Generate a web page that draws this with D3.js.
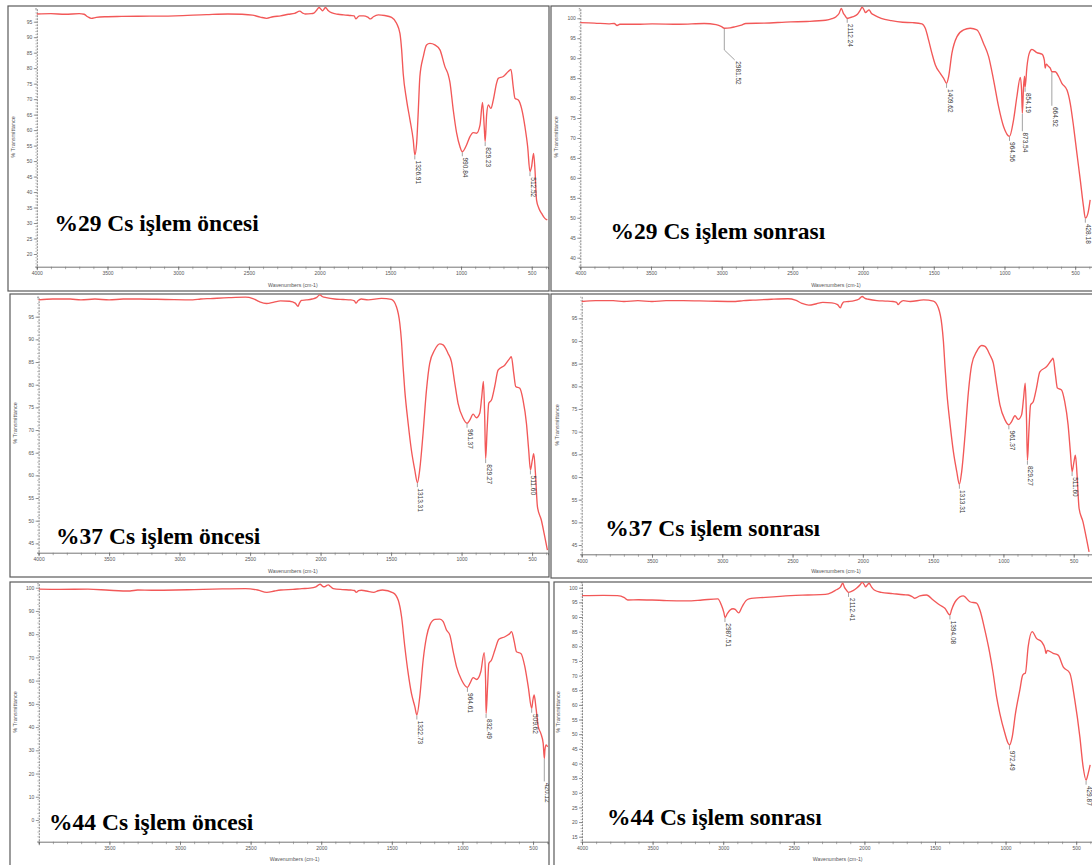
<!DOCTYPE html>
<html>
<head>
<meta charset="utf-8">
<script src="https://cdn.jsdelivr.net/npm/d3@7"></script>
<style>
  body { margin: 0; background: #fff; }
  svg { display: block; }
</style>
</head>
<body>
<svg id="fig" width="1092" height="865"></svg>
<script>
// FTIR spectra: [wavenumber (cm-1), % transmittance]

const cs29Before = [
  [4000,97.5],[3900,97.6],[3800,97.4],[3700,97.6],[3665,97.4],[3640,96.6],[3615,96.1],[3580,96.4],
  [3516,96.6],[3400,96.7],[3200,96.8],[3020,96.9],[2800,97.3],[2648,97.5],[2550,97.4],[2475,97.1],
  [2420,96.5],[2375,96.1],[2330,96.6],[2276,96.9],[2220,97.4],[2177,97.7],[2140,98.4],[2120,97.8],
  [2103,97.5],[2060,97.6],[2041,97.8],[2020,98.8],[2004,99.6],[1990,99.0],[1979,98.5],[1968,99.1],
  [1959,99.6],[1940,98.6],[1917,97.9],[1870,97.4],[1830,97.2],[1780,97.0],[1756,96.9],[1744,95.9],
  [1730,96.5],[1719,96.9],[1690,96.9],[1660,96.5],[1640,95.9],[1620,96.6],[1585,97.2],[1540,97.0],
  [1491,96.4],[1456,94.5],[1432,91.2],[1420,85.9],[1409,78.3],[1385,69.7],[1361,63.3],[1338,56.8],
  [1326.91,52.0],[1314,55.7],[1302,66.5],[1291,77.3],[1267,83.7],[1244,87.5],[1220,88.0],[1185,87.5],
  [1149,85.9],[1114,80.5],[1090,77.8],[1079,75.6],[1055,66.5],[1031,59.0],[1008,54.7],[990.84,53.0],
  [961,55.2],[937,57.9],[914,59.2],[890,59.0],[866,61.6],[848,68.9],[836,61.1],[829.23,56.3],
  [819,64.9],[807,68.1],[789,67.0],[772,69.7],[749,75.1],[737,76.7],[701,77.3],[666,78.9],
  [647,79.6],[631,74.0],[619,70.3],[595,69.7],[572,67.0],[548,61.1],[529,54.7],[512.52,46.6],
  [501,48.2],[487,52.5],[477,47.1],[466,37.4],[449,34.7],[430,33.1],[407,31.5],[390,31.0]
];

const cs29After = [
  [4000,98.9],[3900,98.8],[3800,98.6],[3760,98.7],[3740,98.2],[3720,98.5],[3600,98.5],[3492,98.6],
  [3300,98.5],[3124,98.7],[3040,98.4],[3001,97.9],[2981.52,97.5],[2940,97.6],[2903,97.9],[2860,98.3],
  [2830,98.7],[2700,98.8],[2510,99.1],[2400,99.2],[2265,99.5],[2220,99.9],[2191,100.4],[2170,101.2],
  [2154,102.5],[2140,101.3],[2130,100.8],[2112.24,100.0],[2090,100.2],[2069,100.4],[2040,101.0],
  [2019,102.1],[2007,102.8],[1995,102.2],[1982,101.4],[1970,101.8],[1958,102.1],[1940,101.2],
  [1921,100.8],[1872,100.0],[1800,99.4],[1720,99.0],[1651,98.9],[1584,98.6],[1560,97.5],[1537,94.6],
  [1513,91.2],[1489,88.3],[1454,86.2],[1431,85.0],[1409.62,83.7],[1395,85.4],[1372,91.2],[1336,95.4],
  [1289,97.1],[1242,97.5],[1195,97.1],[1148,93.7],[1112,90.4],[1077,84.5],[1042,77.9],[1006,72.8],
  [964.56,70.4],[936,74.5],[912,80.4],[888,85.2],[879,82.0],[873.54,76.2],[865,82.9],[858,85.5],
  [854.19,82.7],[841,87.9],[825,91.2],[806,92.2],[771,91.4],[735,91.0],[718,89.5],[712,87.5],
  [705,88.5],[690,88.0],[676,87.5],[664.92,86.6],[641,86.6],[617,85.4],[594,83.7],[558,82.0],
  [535,78.7],[511,72.8],[488,66.2],[464,59.5],[441,52.8],[428.18,49.9],[410,51.1],[394,54.5]
];

// the 37 % Cs sample gives the same trace before and after treatment
const cs37 = [
  [4000,98.7],[3900,98.9],[3776,98.9],[3700,98.7],[3600,98.9],[3500,98.7],[3400,98.9],[3278,98.9],
  [3100,98.8],[2906,98.7],[2850,98.9],[2782,99.0],[2650,99.2],[2533,99.3],[2480,99.0],[2434,98.3],
  [2384,97.9],[2330,98.2],[2285,98.5],[2220,98.4],[2180,98.0],[2160,97.3],[2150,98.0],[2135,98.6],
  [2100,98.7],[2060,98.9],[2030,99.2],[2005,99.8],[1985,99.4],[1960,99.2],[1900,98.9],[1840,98.8],
  [1786,98.7],[1760,98.5],[1749,98.0],[1735,98.5],[1712,98.9],[1663,98.7],[1568,99.05],[1498,98.8],
  [1462,97.2],[1438,93.5],[1427,89.9],[1415,84.0],[1403,78.8],[1379,71.5],[1356,65.6],[1332,61.2],
  [1313.31,58.4],[1297,61.2],[1273,69.3],[1249,78.8],[1226,84.7],[1190,87.7],[1155,89.0],[1131,88.8],
  [1096,86.9],[1072,85.1],[1048,80.3],[1025,75.9],[989,72.6],[961.37,71.5],[942,72.2],[918,73.5],
  [895,72.7],[871,73.7],[857,77.3],[845,80.7],[836,72.9],[829.27,63.7],[819,70.0],[807,75.9],
  [788,76.6],[765,79.6],[741,83.2],[694,84.3],[658,85.8],[647,86.2],[630,82.5],[616,79.6],
  [587,79.2],[564,76.6],[540,71.5],[524,65.6],[511.60,61.2],[498,63.4],[488,64.8],[476,60.4],
  [462,53.1],[434,50.1],[410,46.5],[391,43.5]
];

const cs44Before = [
  [4000,99.4],[3850,99.3],[3652,99.4],[3500,98.9],[3354,98.6],[3300,99.0],[3200,98.9],[3031,99.0],
  [2900,99.2],[2700,99.5],[2536,99.6],[2450,99.0],[2385,98.0],[2330,98.6],[2286,99.0],[2200,99.3],
  [2137,99.6],[2080,99.8],[2038,100.4],[2008,101.5],[1990,100.6],[1976,100.4],[1960,101.0],[1951,101.2],
  [1930,100.3],[1914,99.6],[1850,99.2],[1790,99.0],[1765,98.8],[1752,98.0],[1735,98.7],[1715,98.9],
  [1680,98.6],[1628,98.0],[1597,98.7],[1566,99.0],[1490,97.8],[1455,94.7],[1431,87.5],[1408,74.6],
  [1384,63.1],[1361,54.5],[1337,48.8],[1322.73,45.2],[1302,53.1],[1278,68.9],[1254,78.9],[1231,83.9],
  [1195,86.4],[1160,86.5],[1136,85.4],[1113,81.8],[1089,79.6],[1065,72.4],[1042,66.0],[1006,60.3],
  [964.61,57.1],[947,58.8],[924,61.3],[900,60.5],[870,63.8],[846,72.0],[836,60.3],[832.49,45.9],
  [822,57.4],[813,67.4],[794,68.9],[770,73.2],[742,77.8],[699,78.9],[664,80.3],[652,81.1],
  [633,76.8],[617,72.4],[586,71.7],[558,66.0],[534,57.4],[509.62,48.1],[501,51.6],[492,53.8],
  [480,48.8],[463,40.2],[445,37.3],[428,33.0],[420.12,26.5],[416,30.1],[407,32.3],[397,31.5]
];

const cs44After = [
  [4000,97.3],[3850,97.4],[3749,97.3],[3700,96.6],[3676,95.8],[3600,95.9],[3504,95.8],[3400,95.6],
  [3258,95.5],[3150,95.8],[3038,96.2],[3013,94.1],[2995,91.5],[2987.51,89.8],[2970,91.2],[2951,92.4],
  [2930,92.8],[2915,92.6],[2890,91.4],[2866,93.5],[2840,95.5],[2817,96.2],[2700,96.7],[2521,97.3],
  [2400,97.5],[2276,97.7],[2230,98.4],[2202,99.2],[2170,100.2],[2153,101.5],[2140,100.0],[2128,99.2],
  [2112.41,98.4],[2080,99.0],[2054,99.9],[2030,101.0],[2016,101.8],[2000,101.0],[1992,100.3],[1980,100.9],
  [1967,101.5],[1950,100.3],[1930,99.2],[1881,98.4],[1800,98.0],[1720,97.6],[1690,97.5],[1660,96.9],
  [1643,96.4],[1607,97.2],[1560,97.5],[1513,95.8],[1466,94.1],[1430,93.0],[1394.08,90.7],[1383,92.4],
  [1348,95.8],[1300,97.2],[1253,95.2],[1206,94.7],[1182,92.4],[1147,85.6],[1112,77.6],[1088,70.8],
  [1064,62.8],[1041,57.1],[1005,50.3],[982,46.9],[972.49,46.3],[953,49.1],[930,57.1],[899,65.1],
  [880,70.0],[870,70.6],[860,70.8],[840,79.9],[812,85.0],[781,82.7],[746,81.6],[720,79.0],
  [714,77.5],[705,78.6],[663,77.6],[628,77.0],[592,73.0],[545,70.8],[510,61.7],[474,49.1],
  [451,38.9],[429.87,34.3],[415,36.6],[401,39.5]
];

// labelled peak positions (cm-1)
const peaks29Before = [1326.91, 990.84, 829.23, 512.52];
const peaks29After  = [2981.52, 2112.24, 1409.62, 964.56, 873.54, 854.19, 664.92, 428.18];
const peaks37       = [1313.31, 961.37, 829.27, 511.60];
const peaks44Before = [1322.73, 964.61, 832.49, 509.62, 420.12];
const peaks44After  = [2987.51, 2112.41, 1394.08, 972.49, 429.87];

const titles = [
  "%29 Cs işlem öncesi", "%29 Cs işlem sonrası",
  "%37 Cs işlem öncesi", "%37 Cs işlem sonrası",
  "%44 Cs işlem öncesi", "%44 Cs işlem sonrası"
];

const yTicks29Before = d3.range(20, 96, 5);
const yTicks29After  = d3.range(40, 101, 5);
const yTicks37       = d3.range(45, 96, 5);
const yTicks44Before = d3.range(0, 101, 10);
const yTicks44After  = d3.range(15, 101, 5);
const xTickValues    = [4000, 3500, 3000, 2500, 2000, 1500, 1000, 500];

const xAxisTitle = "Wavenumbers (cm-1)";
const yAxisTitle = "% Transmittance";

// ---- panel geometry (pixels) ----
const panels = [
  { data: cs29Before, peaks: peaks29Before, title: titles[0], yTicks: yTicks29Before,
    frame: [8, 6, 549, 291], plot: [36.8, 548, 8.3, 266.7], wnEnd: 385, yDom: [15.9, 99.33],
    titlePos: [54.4, 230.7], xTitle: [292.9, 287], yTitle: [15.3, 137], leaders: {} },
  { data: cs29After, peaks: peaks29After, title: titles[1], yTicks: yTicks29After,
    frame: [551, 6, 1093, 291], plot: [580.3, 1092, 8.3, 266.7], wnEnd: 381, yDom: [37.74, 102.5],
    titlePos: [610.5, 238.5], xTitle: [836, 287], yTitle: [557.6, 137],
    leaders: { "2981.52": [21.7, 10.4, 10], "873.54": [18], "664.92": [34] } },
  { data: cs37, peaks: peaks37, title: titles[2], yTicks: yTicks37,
    frame: [10, 294, 549, 577], plot: [38.6, 548, 296.7, 552.7], wnEnd: 387, yDom: [42.94, 99.41],
    titlePos: [56.1, 543.6], xTitle: [292.9, 572.5], yTitle: [16.7, 423], leaders: {} },
  { data: cs37, peaks: peaks37, title: titles[3], yTicks: yTicks37,
    frame: [551, 294, 1093, 578], plot: [581.7, 1092, 296.7, 554.3], wnEnd: 370, yDom: [42.95, 99.76],
    titlePos: [605.3, 536], xTitle: [836, 573], yTitle: [558.7, 425], leaders: {} },
  { data: cs44Before, peaks: peaks44Before, title: titles[4], yTicks: yTicks44Before,
    frame: [10, 582, 549, 866], plot: [38.8, 548, 583.3, 841.7], wnEnd: 394, yDom: [-9.34, 101.9],
    titlePos: [49.1, 830.3], xTitle: [294.6, 861], yTitle: [16.7, 712], noFirstX: true,
    leaders: { "420.12": [23] } },
  { data: cs44After, peaks: peaks44After, title: titles[5], yTicks: yTicks44After,
    frame: [554, 582, 1093, 866], plot: [582, 1092, 582.3, 841.7], wnEnd: 388, yDom: [13.3, 101.84],
    titlePos: [607, 825], xTitle: [837.7, 861], yTitle: [560.4, 712], leaders: {} }
];

const svg = d3.select("#fig");
svg.append("rect").attr("width", 1092).attr("height", 865).attr("fill", "#fff");

const defs = svg.append("defs");

panels.forEach((p, i) => {
  const [fl, ft, fr, fb] = p.frame;
  const [pl, pr, pt, pb] = p.plot;
  const g = svg.append("g");

  const x = d3.scaleLinear().domain([4000, p.wnEnd]).range([pl, pr]);
  const y = d3.scaleLinear().domain(p.yDom).range([pb, pt]);

  defs.append("clipPath").attr("id", "clip" + i)
    .append("rect").attr("x", fl).attr("y", ft).attr("width", fr - fl).attr("height", fb - ft);

  // panel frame
  g.append("rect")
    .attr("x", fl).attr("y", ft).attr("width", fr - fl).attr("height", fb - ft)
    .attr("fill", "#fff").attr("stroke", "#5a5a5a").attr("stroke-width", 1.2);

  // x axis: minor ticks every 100 cm-1, labelled ticks every 500 cm-1
  const xMinor = d3.axisBottom(x).tickValues(d3.range(4000, p.wnEnd, -100)).tickSize(2.5).tickFormat("");
  const gxm = g.append("g").attr("transform", `translate(0,${pb})`).call(xMinor);
  gxm.select(".domain").attr("stroke", "#666").attr("stroke-width", 0.9);
  gxm.selectAll(".tick line").attr("stroke", "#777").attr("stroke-width", 0.6);

  const xMajor = d3.axisBottom(x)
    .tickValues(xTickValues.filter(v => v > p.wnEnd))
    .tickSize(3.5).tickPadding(1.5)
    .tickFormat(v => (p.noFirstX && v === 4000) ? "" : v);
  const gx = g.append("g").attr("transform", `translate(0,${pb})`).call(xMajor);
  gx.select(".domain").remove();
  gx.selectAll(".tick line").attr("stroke", "#666").attr("stroke-width", 0.7);
  gx.selectAll(".tick text").attr("font-family", "Liberation Sans, Arial, sans-serif")
    .attr("font-size", 5).attr("fill", "#555");

  // y axis
  const yMinor = d3.axisLeft(y).tickValues(d3.range(Math.ceil(p.yDom[0]), p.yDom[1], p.yTicks[1] - p.yTicks[0] > 5 ? 2 : 1))
    .tickSize(1.5).tickFormat("");
  const gym = g.append("g").attr("transform", `translate(${pl},0)`).call(yMinor);
  gym.select(".domain").attr("stroke", "#666").attr("stroke-width", 0.8).attr("stroke-dasharray", "2,1");
  gym.selectAll(".tick line").attr("stroke", "#888").attr("stroke-width", 0.5);

  const yMajor = d3.axisLeft(y).tickValues(p.yTicks).tickSize(3).tickPadding(1.5);
  const gy = g.append("g").attr("transform", `translate(${pl},0)`).call(yMajor);
  gy.select(".domain").remove();
  gy.selectAll(".tick line").attr("stroke", "#666").attr("stroke-width", 0.7);
  gy.selectAll(".tick text").attr("font-family", "Liberation Sans, Arial, sans-serif")
    .attr("font-size", 5).attr("fill", "#555");

  // axis titles
  g.append("text").attr("x", p.xTitle[0]).attr("y", p.xTitle[1])
    .attr("text-anchor", "middle").attr("font-family", "Liberation Sans, Arial, sans-serif")
    .attr("font-size", 5.2).attr("fill", "#555").text(xAxisTitle);
  g.append("text").attr("transform", `translate(${p.yTitle[0]},${p.yTitle[1]}) rotate(-90)`)
    .attr("text-anchor", "middle").attr("font-family", "Liberation Sans, Arial, sans-serif")
    .attr("font-size", 5.6).attr("fill", "#555").text(yAxisTitle);

  const inner = g.append("g").attr("clip-path", `url(#clip${i})`);

  // spectrum
  const line = d3.line().x(d => x(d[0])).y(d => y(d[1])).curve(d3.curveMonotoneX);
  inner.append("path").datum(p.data)
    .attr("d", line).attr("fill", "none")
    .attr("stroke", "#f25858").attr("stroke-width", 1.35).attr("stroke-linejoin", "round");

  // peak labels with leader lines
  const lookup = new Map(p.data.map(d => [d[0], d[1]]));
  p.peaks.forEach(wn => {
    const px = x(wn), py = y(lookup.get(wn));
    const lead = p.leaders[wn.toFixed(2)] || [4.5];
    const drop = lead[0];
    const pts = [[px, py + 0.5], [px, py + drop]];
    if (lead.length > 1) pts.push([px + lead[1], py + drop + lead[2]]);
    const end = pts[pts.length - 1];
    inner.append("path").attr("d", d3.line()(pts))
      .attr("fill", "none").attr("stroke", "#8a8a8a").attr("stroke-width", 0.8);
    inner.append("text")
      .attr("transform", `translate(${end[0] + 1},${end[1] + 1.2}) rotate(90)`)
      .attr("font-family", "Liberation Sans, Arial, sans-serif")
      .attr("font-size", 6.5).attr("fill", "#3a3a3a")
      .text(wn.toFixed(2));
  });

  // panel title
  g.append("text").attr("x", p.titlePos[0]).attr("y", p.titlePos[1])
    .attr("font-family", "Liberation Serif, 'Times New Roman', serif")
    .attr("font-weight", "bold").attr("font-size", 23.5).attr("fill", "#000")
    .text(p.title);
});
</script>
</body>
</html>
